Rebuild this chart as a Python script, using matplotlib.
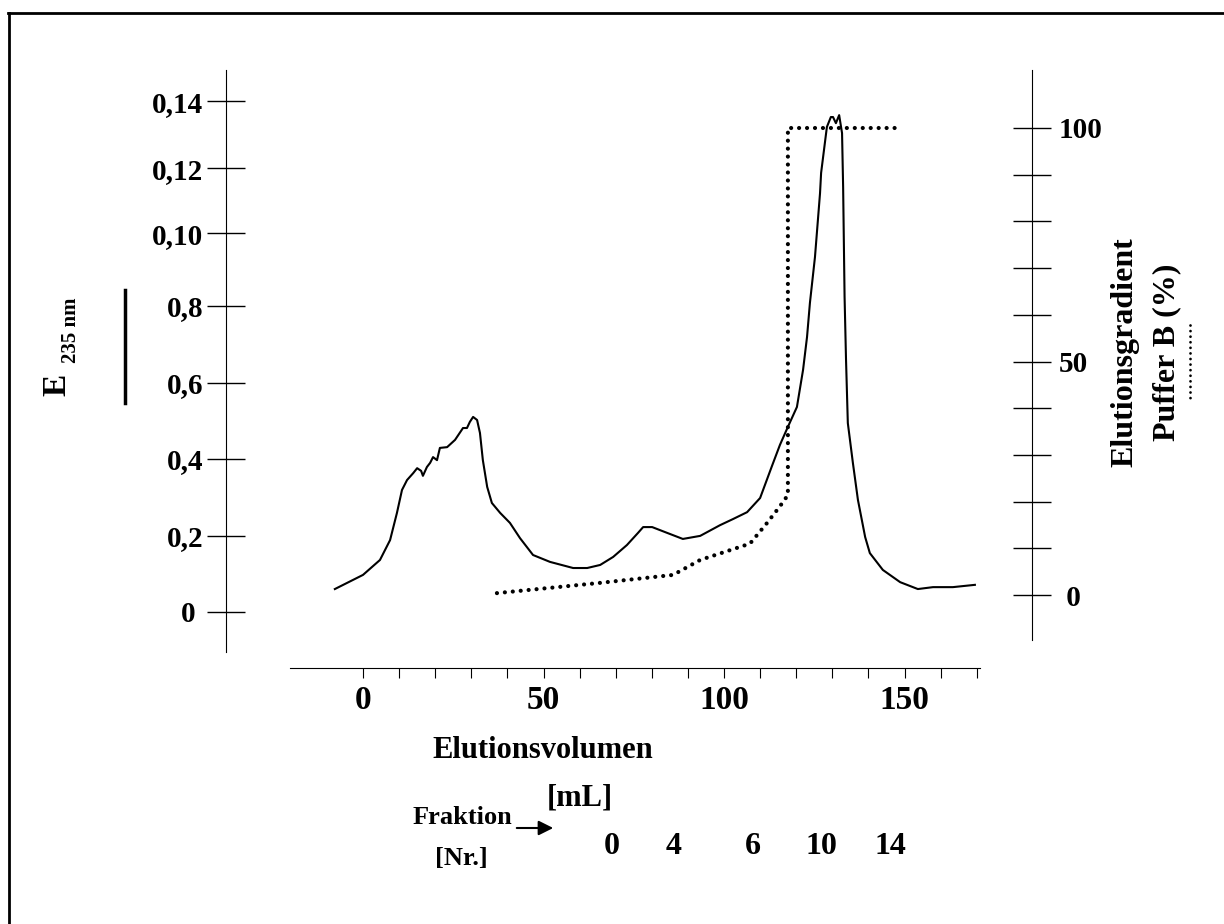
import matplotlib
matplotlib.use("Agg")
import matplotlib.pyplot as plt
import matplotlib.transforms as mtransforms
from matplotlib.lines import Line2D

plt.rcParams['font.family'] = ['Liberation Serif', 'DejaVu Serif']
plt.rcParams['font.weight'] = 'bold'

# Elution trace E235
volume = [-7.8, 0.0, 4.7, 7.5, 9.4, 10.8, 12.2, 13.9, 15.0, 16.1, 16.6, 17.7,
          18.6, 19.4, 20.5, 21.3, 23.3, 25.5, 27.7, 28.8, 29.6, 30.5, 31.6,
          32.4, 33.2, 34.4, 35.7, 38.0, 40.7, 43.5, 47.1, 51.8, 58.2, 62.1,
          65.7, 69.3, 73.1, 76.2, 77.6, 80.1, 84.2, 88.6, 93.4, 98.9, 102.5,
          106.4, 110.0, 113.3, 115.5, 117.7, 120.2, 121.9, 123.0, 123.8, 125.2,
          126.6, 126.9, 128.5, 129.6, 130.2, 131.0, 131.9, 132.7, 133.0, 133.4,
          133.8, 134.3, 135.7, 137.1, 139.1, 140.4, 144.0, 148.8, 153.7, 157.9,
          163.4, 169.5]
absorbance = [0.060, 0.097, 0.136, 0.188, 0.259, 0.319, 0.345, 0.363, 0.376,
              0.369, 0.356, 0.379, 0.390, 0.405, 0.397, 0.429, 0.431, 0.450,
              0.481, 0.481, 0.497, 0.510, 0.502, 0.468, 0.397, 0.327, 0.285,
              0.259, 0.233, 0.193, 0.149, 0.131, 0.115, 0.115, 0.123, 0.144,
              0.175, 0.207, 0.222, 0.222, 0.207, 0.191, 0.199, 0.227, 0.243,
              0.261, 0.298, 0.382, 0.437, 0.484, 0.536, 0.633, 0.719, 0.808,
              0.928, 1.095, 1.148, 1.268, 1.294, 1.294, 1.278, 1.299, 1.252,
              1.111, 0.824, 0.660, 0.494, 0.390, 0.293, 0.196, 0.154, 0.110,
              0.078, 0.060, 0.065, 0.065, 0.071]

# gradient Puffer B (%)
grad_volume = [37.1, 65.7, 85.9, 93.4, 107.2, 111.9, 115.5, 117.7, 117.7, 148.2]
grad_percent = [0.4, 2.6, 4.3, 7.5, 11.0, 15.4, 19.0, 21.4, 100.0, 100.0]

e_ticks = [0, 0.2, 0.4, 0.6, 0.8, 0.99, 1.16, 1.335]
e_labels = ["0 ", "0,2", "0,4", "0,6", "0,8", "0,10", "0,12", "0,14"]
pct_ticks = list(range(0, 101, 10))
pct_labels = [" 0" if t == 0 else (str(t) if t in (50, 100) else "") for t in pct_ticks]
vol_ticks = list(range(0, 171, 10))
vol_labels = [str(t) if t % 50 == 0 else "" for t in vol_ticks]

fraktion_vol = [69, 86, 108, 127, 146]
fraktion_nr = ["0", "4", "6", "10", "14"]

W, H = 1224, 924
X0, XS = 363, 3.61        # pixel of 0 mL, pixels per mL
E0, ES = 612, 382.5       # pixel of E=0, pixels per unit E
P0, PS = 595, 4.67        # pixel of 0 %, pixels per %


def fx(x):
    return x / W


def fy(y):
    return 1 - y / H


fig = plt.figure(figsize=(12.24, 9.24), dpi=100)
ax = fig.add_axes([fx(180), fy(700), (1060 - 180) / W, (700 - 60) / H])
ax.set_xlim((180 - X0) / XS, (1060 - X0) / XS)
ax.set_ylim((E0 - 700) / ES, (E0 - 60) / ES)
ax2 = ax.twinx()
ax2.set_ylim((P0 - 700) / PS, (P0 - 60) / PS)
ax.patch.set_visible(False)
ax2.patch.set_visible(False)

ax.plot(volume, absorbance, color='black', lw=1.5, solid_joinstyle='round')
ax2.plot(grad_volume, grad_percent, color='black', lw=3,
         linestyle=(0, (0.01, 1.9)), dash_capstyle='round')

for s in ['top', 'right']:
    ax.spines[s].set_visible(False)
for s in ['top', 'left', 'bottom']:
    ax2.spines[s].set_visible(False)

ax.spines['left'].set_position(('data', (226 - X0) / XS))
ax.spines['left'].set_bounds((E0 - 652) / ES, (E0 - 70) / ES)
ax.spines['bottom'].set_position(('data', (E0 - 668) / ES))
ax.spines['bottom'].set_bounds((290 - X0) / XS, 171)
ax2.spines['right'].set_position(('data', (1032 - X0) / XS))
ax2.spines['right'].set_bounds((P0 - 640) / PS, (P0 - 70) / PS)

ax.set_yticks(e_ticks, e_labels)
ax.tick_params(axis='y', direction='inout', length=27, width=1, pad=3, labelsize=21)
ax.set_xticks(vol_ticks, vol_labels)
ax.tick_params(axis='x', direction='out', length=7, width=0.8, pad=5, labelsize=24)
ax2.set_yticks(pct_ticks, pct_labels)
ax2.tick_params(axis='y', direction='inout', length=27, width=1, pad=6, labelsize=21)

# axis titles
fig.text(fx(57), fy(385), "E", rotation=90, ha='center', va='center', fontsize=24)
fig.text(fx(71), fy(330), "235 nm", rotation=90, ha='center', va='center', fontsize=15)
fig.add_artist(Line2D([fx(125), fx(125)], [fy(290), fy(403)], lw=2.5, color='black'))

fig.text(fx(1125), fy(352), "Elutionsgradient", rotation=90, ha='center', va='center', fontsize=23)
fig.text(fx(1167), fy(352), "Puffer B (%)", rotation=90, ha='center', va='center', fontsize=23)
fig.add_artist(Line2D([fx(1190), fx(1190)], [fy(325), fy(399)], lw=2, color='black',
                      linestyle=(0, (0.01, 2.0)), dash_capstyle='round'))

fig.text(fx(543), fy(750), "Elutionsvolumen", ha='center', va='center', fontsize=22)
fig.text(fx(580), fy(798), "[mL]", ha='center', va='center', fontsize=22)
fig.text(fx(462), fy(818), "Fraktion", ha='center', va='center', fontsize=19)
fig.text(fx(461), fy(858), "[Nr.]", ha='center', va='center', fontsize=19)
ax.annotate("", xy=(556, H - 828), xytext=(514, H - 828),
            xycoords='figure pixels', textcoords='figure pixels',
            arrowprops=dict(arrowstyle='-|>', color='black', lw=1.5, mutation_scale=22))

trans = mtransforms.blended_transform_factory(ax.transData, fig.transFigure)
for v, n in zip(fraktion_vol, fraktion_nr):
    ax.text(v, fy(847), n, transform=trans, ha='center', va='center', fontsize=23)

# frame of the scan
fig.add_artist(Line2D([fx(8), 1], [fy(13), fy(13)], lw=2, color='black'))
fig.add_artist(Line2D([fx(9), fx(9)], [fy(13), 0], lw=2, color='black'))

fig.savefig("out.png", dpi=100)
